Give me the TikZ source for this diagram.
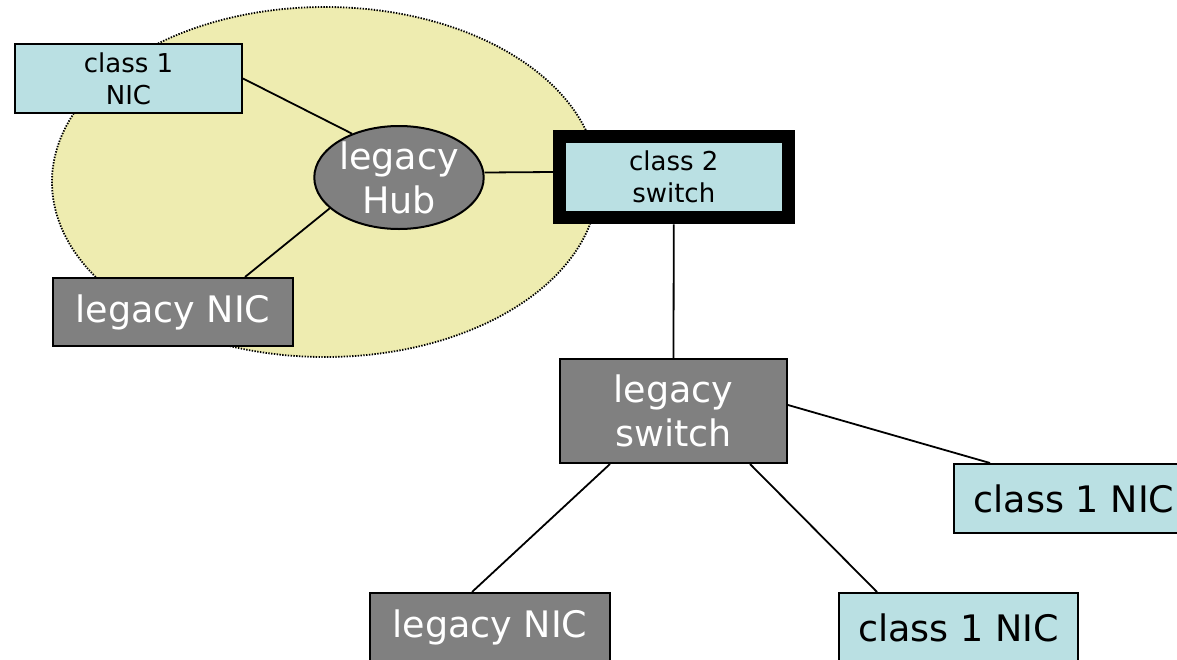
\documentclass[tikz,border=0pt]{standalone}
\usepackage{fontspec}
\setmainfont{DejaVu Sans}
\usetikzlibrary{shapes.geometric}
\definecolor{cyanbox}{RGB}{186,224,227}
\definecolor{graybox}{RGB}{128,128,128}
\definecolor{zone}{RGB}{238,236,176}
\newcommand\bigtxt{\fontsize{36.5}{44}\selectfont}
\newcommand\smalltxt{\fontsize{26}{32}\selectfont}
\begin{document}
\begin{tikzpicture}[x=1pt,y=-1pt,
  cbox/.style={draw=black,line width=2pt,fill=cyanbox,text=black,inner sep=0pt,align=center},
  gbox/.style={draw=black,line width=2pt,fill=graybox,text=white,inner sep=0pt,align=center},
  link/.style={draw=black,line width=1.8pt}]
\useasboundingbox (0,0) rectangle (1177,659);
\clip (0,0) rectangle (1177,659);
% domain ellipse
\fill[zone] (325,182) ellipse [x radius=273, y radius=175];
\draw[black,line width=1.8pt,dash pattern=on 1.4pt off 1.4pt] (325,182) ellipse [x radius=273, y radius=175];
% nodes
\node[cbox,minimum width=227pt,minimum height=69pt,font=\smalltxt] (nic1) at (128.5,78.5) {class 1\\NIC};
\node[gbox,ellipse,minimum width=160pt,minimum height=103pt,font=\bigtxt] (hub) at (399,177.5) {legacy\\Hub};
\node[gbox,minimum width=240pt,minimum height=68pt,font=\bigtxt] (lnic) at (173,312) {legacy NIC};
\node[cbox,line width=13pt,minimum width=228.5pt,minimum height=81.5pt,font=\smalltxt] (c2) at (673.75,177) {class 2\\switch};
\node[gbox,minimum width=227pt,minimum height=104pt,font=\bigtxt] (ls) at (673.5,411) {legacy\\switch};
\node[cbox,minimum width=240pt,minimum height=69pt,font=\bigtxt] (rnic) at (1074,498.5) {class 1 NIC};
\node[cbox,minimum width=239pt,minimum height=69pt,font=\bigtxt] (brnic) at (958.5,627.5) {class 1 NIC};
\node[gbox,minimum width=240pt,minimum height=69pt,font=\bigtxt] (blnic) at (490,627.5) {legacy NIC};
% links
\draw[link] (nic1.east) -- (hub.137);
\draw[link] (hub.204) -- ([xshift=72pt]lnic.north);
\draw[link] ([yshift=5pt]hub.east) -- ([yshift=5pt]c2.west);
\draw[link] (c2.south) -- (ls.north);
\draw[link] ([yshift=6pt]ls.east) -- ([xshift=37pt]rnic.north west);
\draw[link] ([xshift=51pt]ls.south west) -- ([xshift=103pt]blnic.north west);
\draw[link] ([xshift=-38pt]ls.south east) -- ([xshift=39pt]brnic.north west);
\end{tikzpicture}
\end{document}
